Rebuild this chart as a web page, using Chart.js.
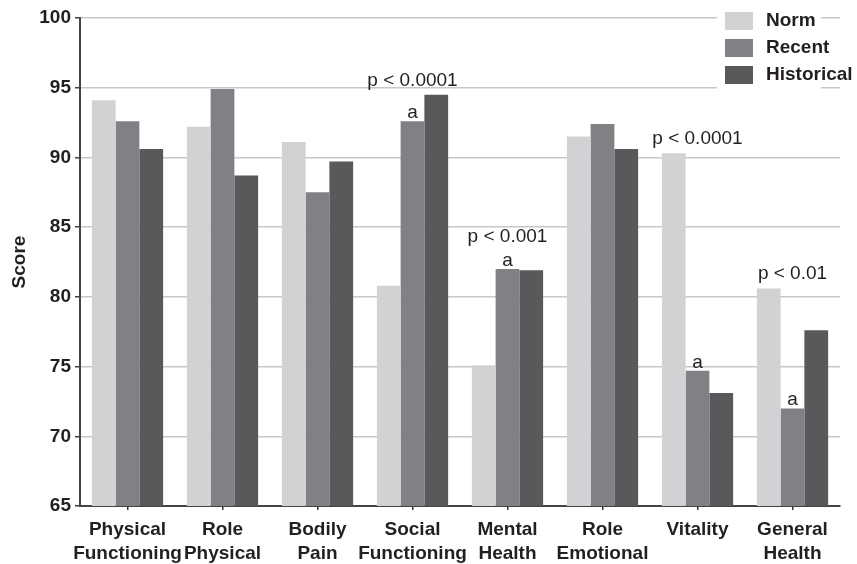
<!DOCTYPE html>
<html>
<head>
<meta charset="utf-8">
<script src="https://cdn.jsdelivr.net/npm/chart.js@4/dist/chart.umd.min.js"></script>
<style>
  html, body { margin: 0; padding: 0; background: #ffffff; }
  #wrap { width: 857px; height: 564px; }
</style>
</head>
<body>
<div id="wrap"><canvas id="c" width="857" height="564"></canvas></div>
<script>
// SF-36 domain scores by group
const categories = [
  ['Physical', 'Functioning'], ['Role', 'Physical'], ['Bodily', 'Pain'],
  ['Social', 'Functioning'], ['Mental', 'Health'], ['Role', 'Emotional'],
  ['Vitality'], ['General', 'Health']
];
const seriesNames = ['Norm', 'Recent', 'Historical'];
const normScores       = [94.1, 92.2, 91.1, 80.8, 75.1, 91.5, 90.3, 80.6];
const recentScores     = [92.6, 94.9, 87.5, 92.6, 82.0, 92.4, 74.7, 72.0];
const historicalScores = [90.6, 88.7, 89.7, 94.5, 81.9, 90.6, 73.1, 77.6];
const yTicks = [65, 70, 75, 80, 85, 90, 95, 100];

// significance notes: category index and text
const pNoteCats  = [3, 4, 6, 7];
const pNoteTexts = ['p < 0.0001', 'p < 0.001', 'p < 0.0001', 'p < 0.01'];
// categories where Recent differs from Historical ("a" marker)
const aMarkCats  = [3, 4, 6, 7];

const colors = ['#d1d2d4', '#808184', '#58595b'];
const ink = '#231f20';
const FONT = '"Liberation Sans", Arial, Helvetica, sans-serif';

const notesPlugin = {
  id: 'notes',
  afterDatasetsDraw(chart) {
    const ctx = chart.ctx;
    const y = chart.scales.y;
    const recentMeta = chart.getDatasetMeta(1);
    ctx.save();
    ctx.fillStyle = ink;
    ctx.font = '19px ' + FONT;
    ctx.textAlign = 'center';
    ctx.textBaseline = 'alphabetic';
    const aBase = {};
    aMarkCats.forEach(i => {
      const bar = recentMeta.data[i];
      const base = bar.y - 3;
      aBase[i] = base;
      ctx.fillText('a', bar.x, base);
    });
    pNoteCats.forEach((i, k) => {
      const top = Math.max(...chart.data.datasets.map(d => d.data[i]));
      let base = y.getPixelForValue(top) - 9;
      if (aBase[i] !== undefined) base = Math.min(base, aBase[i] - 24);
      const x = chart.scales.x.getPixelForValue(i);
      ctx.fillText(pNoteTexts[k], x, base);
    });
    ctx.restore();
  }
};

const legendPlugin = {
  id: 'boxLegend',
  afterDraw(chart) {
    const ctx = chart.ctx;
    ctx.save();
    ctx.fillStyle = '#ffffff';
    ctx.fillRect(717, 4, 104, 88);
    ctx.font = 'bold 19px ' + FONT;
    ctx.textBaseline = 'middle';
    ctx.textAlign = 'left';
    chart.data.datasets.forEach((ds, i) => {
      const top = 12 + i * 27;
      ctx.fillStyle = ds.backgroundColor;
      ctx.fillRect(725, top, 28, 18);
      ctx.fillStyle = ink;
      ctx.fillText(ds.label, 766, top + 9);
    });
    ctx.restore();
  }
};

new Chart(document.getElementById('c'), {
  type: 'bar',
  data: {
    labels: categories,
    datasets: [
      { label: seriesNames[0], data: normScores, backgroundColor: colors[0] },
      { label: seriesNames[1], data: recentScores, backgroundColor: colors[1] },
      { label: seriesNames[2], data: historicalScores, backgroundColor: colors[2] }
    ]
  },
  options: {
    responsive: false,
    animation: false,
    devicePixelRatio: 1,
    layout: { padding: { top: 18, right: 17, left: 0, bottom: 0 } },
    datasets: { bar: { barPercentage: 1, categoryPercentage: 0.75, borderWidth: 0 } },
    plugins: { legend: { display: false }, tooltip: { enabled: false } },
    scales: {
      x: {
        grid: { display: true, drawOnChartArea: false, offset: false, tickLength: 4, color: '#333333', lineWidth: 1.5 },
        border: { display: true, color: '#444444', width: 2 },
        ticks: { color: ink, font: { family: FONT, size: 19, weight: 'bold', lineHeight: 1.24 }, padding: 8, maxRotation: 0, autoSkip: false },
        afterFit(scale) { scale.height = 58; }
      },
      y: {
        min: 65, max: 100,
        afterBuildTicks(scale) { scale.ticks = yTicks.map(v => ({ value: v })); },
        grid: { color: '#c8c8ca', lineWidth: 1.5, tickLength: 5, tickColor: '#444444' },
        border: { display: true, color: '#444444', width: 2 },
        ticks: { color: ink, font: { family: FONT, size: 19, weight: 'bold' }, padding: 4 },
        title: { display: true, text: 'Score', color: ink, font: { family: FONT, size: 19, weight: 'bold' }, padding: { top: 8, bottom: 0 } },
        afterFit(scale) { scale.width = 80; }
      }
    }
  },
  plugins: [notesPlugin, legendPlugin]
});
</script>
</body>
</html>
